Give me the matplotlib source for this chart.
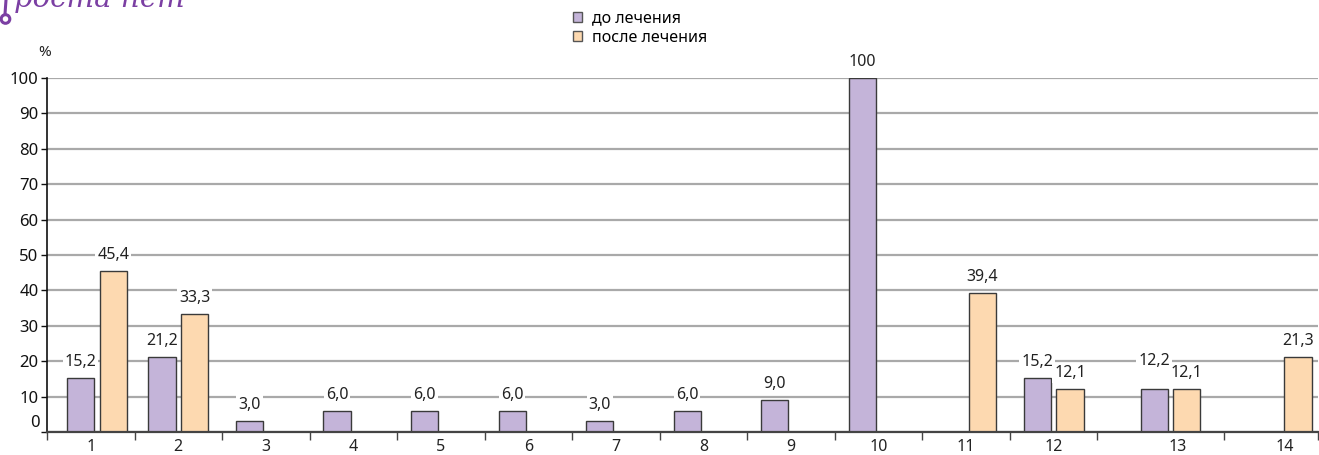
import numpy as np
import matplotlib
matplotlib.use("Agg")
import matplotlib.pyplot as plt
from matplotlib.patches import Patch, Circle
from matplotlib.lines import Line2D

plt.rcParams['font.family'] = ['Noto Sans', 'DejaVu Sans']

# --- data -------------------------------------------------------------
categories = ["1", "2", "3", "4", "5", "6", "7", "8", "9", "10", "11", "12", "13", "14"]
before = [15.2, 21.2, 3.0, 6.0, 6.0, 6.0, 3.0, 6.0, 9.0, 100, np.nan, 15.2, 12.2, np.nan]
after = [45.4, 33.3, np.nan, np.nan, np.nan, np.nan, np.nan, np.nan, np.nan, np.nan,
         39.4, 12.1, 12.1, 21.3]
series_names = ["до лечения", "после лечения"]
y_ticks = [0, 10, 20, 30, 40, 50, 60, 70, 80, 90, 100]

# --- style ------------------------------------------------------------
PURPLE = "#c4b4d9"
ORANGE = "#fdd9b0"
EDGE = "#3a3a3a"
GRID = "#a9a9a9"
LOGO = "#7b3fa3"
TXT = "#222222"

W, H, DPI = 1319, 455, 100
fig = plt.figure(figsize=(W / DPI, H / DPI), dpi=DPI)
ax = fig.add_axes([47 / W, (H - 432) / H, (1318 - 47) / W, (432 - 78) / H])

# slot layout along x (the last two groups are wider)
slot_w = np.array([1.0] * 12 + [1.45, 1.07])
edges = np.concatenate([[0], np.cumsum(slot_w)])
middles = edges[:-1] + slot_w / 2
bar_nudge = np.array([0.07] + [0.0] * 11 + [0.11, 0.12])
label_nudge = np.array([0.0] * 12 + [0.19, 0.16])
centres = middles + bar_nudge
bar_w = 0.31
shift = 0.187

# extra lift (pixels) for value labels that would otherwise collide
lift_before = np.array([0] * 12 + [12, 0])
lift_after = np.zeros(14)


def fmt(v):
    return "100" if v == 100 else f"{v:.1f}".replace(".", ",")


for vals, off, col, lift in ((before, -shift, PURPLE, lift_before),
                             (after, shift, ORANGE, lift_after)):
    vals = np.asarray(vals, dtype=float)
    ok = ~np.isnan(vals)
    xs = centres[ok] + off
    ax.bar(xs, vals[ok], width=bar_w, color=col, edgecolor=EDGE,
           linewidth=1.0, zorder=3)
    for x, v, up in zip(xs, vals[ok], lift[ok]):
        ax.annotate(fmt(v), xy=(x, v), xytext=(0, 16 + up),
                    textcoords="offset pixels",
                    ha="center", va="center", fontsize=11.5, color=TXT,
                    zorder=4, annotation_clip=False,
                    bbox=dict(boxstyle="square,pad=0.12", fc="white", ec="none"))

ax.set_xlim(edges[0], edges[-1])
ax.set_ylim(0, 100)

# grid
ax.set_yticks(y_ticks)
ax.yaxis.grid(True, color=GRID, linewidth=1.6, zorder=0)
ax.set_axisbelow(True)

for s in ("top", "right"):
    ax.spines[s].set_visible(False)
ax.spines["left"].set_color("#111111")
ax.spines["left"].set_linewidth(1.2)
ax.spines["bottom"].set_color("#444444")
ax.spines["bottom"].set_linewidth(1.6)
ax.spines["bottom"].set_zorder(5)

ax.tick_params(axis="y", direction="out", length=4, width=1.0, pad=2,
               labelsize=12, colors="#111111")
ax.set_yticklabels([""] + [str(t) for t in y_ticks[1:]])
ax.annotate("0", xy=(0, 0), xycoords=("axes fraction", "data"),
            xytext=(-7, 9), textcoords="offset pixels", ha="right", va="center",
            fontsize=12, color="#111111", annotation_clip=False)

# x: ticks on slot boundaries, labels in the slots
ax.set_xticks(edges)
ax.set_xticklabels([])
ax.tick_params(axis="x", which="major", direction="out", length=6, width=1.0,
               color="#444444")
ax.set_xticks(middles + label_nudge, minor=True)
ax.tick_params(axis="x", which="minor", length=0, pad=5, labelsize=11.5,
               labelcolor=TXT)
ax.set_xticklabels(categories, minor=True)

# unit label
fig.text(45 / W, 1 - 53 / H, "%", ha="center", va="center", fontsize=11,
         color=TXT)

# legend
handles = [Patch(facecolor=PURPLE, edgecolor="#555555", linewidth=1.0),
           Patch(facecolor=ORANGE, edgecolor="#555555", linewidth=1.0)]
fig.legend(handles, series_names, loc="upper left",
           bbox_to_anchor=(571 / W, 1 - 9 / H), frameon=False, fontsize=11.5,
           handlelength=0.6, handleheight=0.6, handletextpad=0.6,
           labelspacing=0.2, borderpad=0.1, borderaxespad=0)

# header ornament at the top-left
fig.add_artist(Line2D([6 / W, 5 / W], [1.0, 1 - 14 / H], color=LOGO,
                      linewidth=2.2, transform=fig.transFigure))
fig.add_artist(Circle((5.5, H - 19), 4.3, transform=None, facecolor="white",
                      edgecolor=LOGO, linewidth=2.2))
fig.text(14 / W, 1 - 7 / H, "роста нет", ha="left", va="baseline",
         fontsize=21, color=LOGO, family="DejaVu Serif", style="italic")

fig.savefig("out.png", dpi=DPI)
